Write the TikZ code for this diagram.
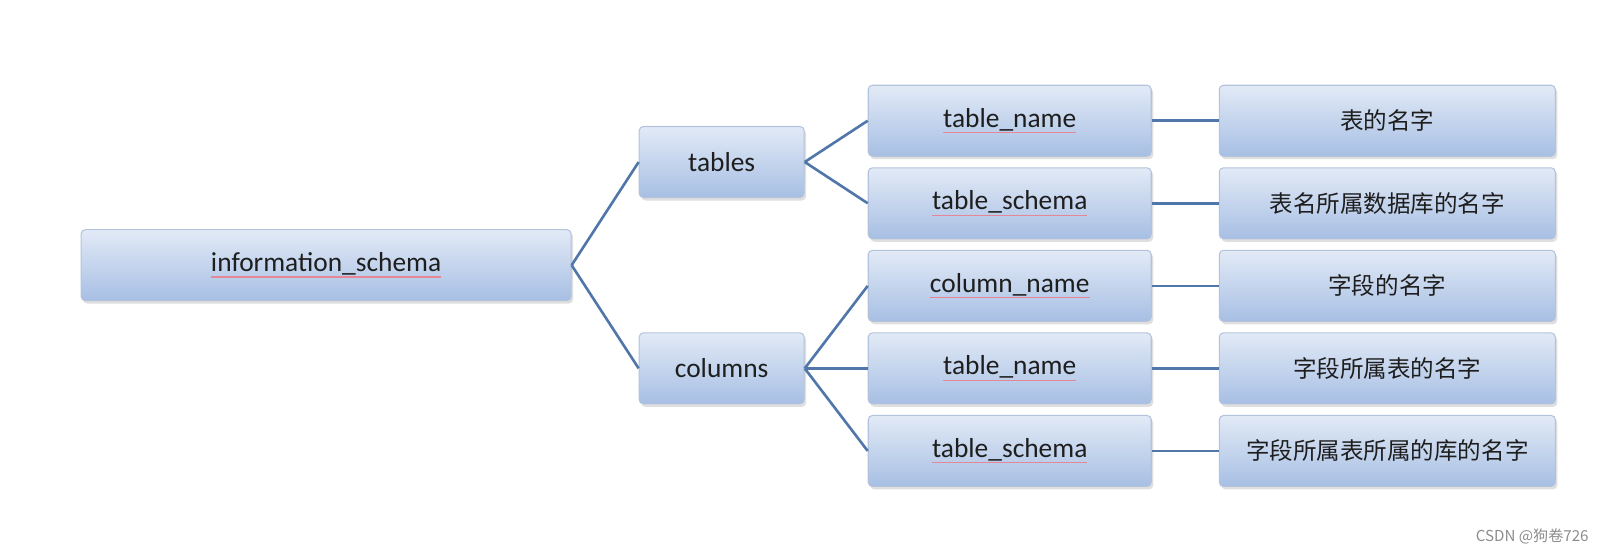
\documentclass[tikz,border=0pt]{standalone}
\usepackage{fontspec}
\setmainfont{Carlito}
\newfontfamily\cjk{Noto Sans CJK SC}
\usepackage{tikz}
\usetikzlibrary{calc}
\usetikzlibrary{shadows}
\usetikzlibrary{matrix,positioning}
\usepackage{xcolor}
\definecolor{boxtop}{HTML}{E2EAF6}
\definecolor{boxbot}{HTML}{A7BFE4}
\definecolor{boxline}{HTML}{B3C3DB}
\definecolor{linkblue}{HTML}{5177AA}
\definecolor{spellred}{HTML}{E58797}
\definecolor{ink}{HTML}{1E1E1E}
\newcommand{\spl}[1]{\setbox0\hbox{#1}\rlap{\copy0}\raisebox{-1.7pt}{\textcolor{spellred}{\rule{\wd0}{0.35pt}}}}
\tikzset{
  box/.style={rectangle, rounded corners=1.2pt, draw=boxline, line width=0.3pt,
    top color=boxtop, bottom color=boxbot, minimum height=7.1mm, inner sep=0pt,
    text=ink, font=\fontsize{7.8}{9}\selectfont,
    drop shadow={shadow xshift=0.2mm, shadow yshift=-0.3mm, opacity=0.25}},
  zh/.style={font=\fontsize{6.7}{8}\cjk},
  link/.style={draw=linkblue, line width=0.75pt}
}
\begin{document}
\begin{tikzpicture}
        \useasboundingbox (0,0) rectangle (16.03,-5.52);
        \matrix (FD) [matrix of nodes, anchor=north west, row sep=1.05mm, column sep=6.7mm,
        inner sep=0pt, ampersand replacement=\&, nodes={box, anchor=center},
        column 1/.style={nodes={minimum width=28.3mm}},
        column 2/.style={nodes={minimum width=33.6mm, zh}}] at (8.67,-0.84) {
          \spl{table\_name}   \& 表的名字 \\
          \spl{table\_schema} \& 表名所属数据库的名字 \\
          \spl{column\_name}  \& 字段的名字 \\
          \spl{table\_name}   \& 字段所属表的名字 \\
          \spl{table\_schema} \& 字段所属表所属的库的名字 \\
        };
        \node[box, minimum width=16.5mm, anchor=east] (tables)
          at ($(FD-1-1.west)!.5!(FD-2-1.west)+(-6.3mm,0)$) {tables};
        \node[box, minimum width=16.5mm, left=6.3mm of FD-4-1] (columns) {columns};
        \node[box, minimum width=49mm, anchor=east] (info)
          at ($(tables.west)!.5!(columns.west)+(-6.7mm,0)$) {\spl{information\_schema}};
        \draw[link] (info.east) -- (tables.west);
        \draw[link] (info.east) -- (columns.west);
        \draw[link] (tables.east) -- (FD-1-1.west);
        \draw[link] (tables.east) -- (FD-2-1.west);
        \draw[link] (columns.east) -- (FD-3-1.west);
        \draw[link] (columns.east) -- (FD-4-1.west);
        \draw[link] (columns.east) -- (FD-5-1.west);
        \draw[link] (FD-1-1.east) -- (FD-1-2.west);
        \draw[link] (FD-2-1.east) -- (FD-2-2.west);
        \draw[link] (FD-3-1.east) -- (FD-3-2.west);
        \draw[link] (FD-4-1.east) -- (FD-4-2.west);
        \draw[link] (FD-5-1.east) -- (FD-5-2.west);
        \node[anchor=east, text=black!45, font=\fontsize{4.3}{5}\cjk] (mark)
          at (16.01,-5.36) {CSDN @狗卷726};
\end{tikzpicture}
\end{document}
